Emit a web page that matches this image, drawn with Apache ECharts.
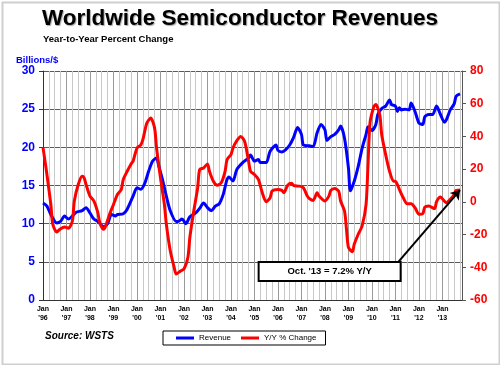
<!DOCTYPE html>
<html>
<head>
<meta charset="utf-8">
<script src="https://cdn.jsdelivr.net/npm/echarts@6/dist/echarts.min.js"></script>
<style>
html,body{margin:0;padding:0;background:#fff;}
#chart{width:500px;height:365px;}
</style>
</head>
<body>
<div id="chart"></div>
<script>
// x positions are month indices counted from Jan 1996 (0) to Oct 2013 (213)
var yearLabels = ["'96","'97","'98","'99","'00","'01","'02","'03","'04","'05","'06","'07","'08","'09","'10","'11","'12","'13"];

var revenueMonths = [0,2,4,7,9,11,13,15,17,20,22,24,26,28,31,33,35,37,38,41,43,46,48,50,52,54,56,58,59,61,63,65,68,69,71,73,75,78,80,82,84,86,88,90,92,94,95,97,99,102,105,106,108,110,111,114,116,119,120,122,124,126,128,130,132,133,136,138,140,142,144,145,147,149,151,152,154,156,157,159,161,163,165,166,168,170,171,173,175,177,178,180,181,182,183,185,187,188,190,192,194,195,197,199,201,203,205,206,208,210,211,213];
var revenueValues = [12.7,12.3,11.2,10.1,10.3,11.0,10.6,11.0,11.5,11.7,12.1,11.4,10.6,10.3,9.6,10.0,11.2,11.0,11.2,11.3,11.9,13.6,14.7,14.5,15.3,16.9,18.2,18.6,17.7,15.8,13.6,11.7,10.3,10.3,10.6,10.0,10.9,11.4,12.0,12.7,12.1,11.7,12.3,12.6,13.8,15.8,16.1,15.6,17.1,18.0,18.6,19.0,18.2,18.4,18.0,18.0,19.5,20.3,19.6,19.4,19.7,20.3,21.3,22.6,21.7,20.3,20.2,20.1,21.9,23.0,22.3,20.9,21.4,21.7,22.3,22.8,21.2,17.3,14.3,15.6,17.5,19.9,21.7,22.7,22.2,23.0,24.3,25.1,25.4,26.2,25.6,25.4,24.7,25.2,24.9,25.0,24.9,25.8,24.7,23.2,23.0,24.0,24.3,24.3,25.4,24.3,23.3,23.6,24.9,25.7,26.7,27.0];

var yoyMonths = [0,2,4,5,7,9,11,13,15,16,18,20,21,22,24,26,28,29,31,32,34,36,38,40,41,43,45,46,48,50,51,53,55,57,58,60,62,63,65,67,68,70,72,74,75,77,79,80,82,84,85,87,89,91,93,94,96,97,99,101,103,105,106,108,110,112,114,116,117,120,122,123,125,127,128,131,133,135,136,138,140,141,144,146,147,149,151,152,154,155,156,158,159,161,163,165,166,167,169,170,172,173,175,177,179,180,182,184,186,188,190,192,194,195,197,200,201,203,205,206,208,210,211,213];
var yoyValues = [33.3,16.7,-1.6,-13.7,-18.4,-16.4,-15.3,-16.2,-11.7,0.5,10.6,15.7,14.7,10.6,3.5,0.5,-6.6,-12.7,-16.8,-14.7,-7.6,-1.6,4.5,7.6,13.7,18.7,23.2,24.8,32.9,34.9,38.0,48.1,51.2,45.1,32.9,14.7,-1.6,-13.7,-29.9,-40.1,-44.1,-42.5,-41.1,-34.0,-21.8,-5.6,8.6,19.7,20.7,23.2,18.7,12.6,10.2,11.6,18.7,25.8,28.9,32.9,37.4,40.0,36.9,24.8,18.7,16.7,13.7,5.5,0.0,2.5,6.6,7.6,7.0,5.5,10.2,11.3,10.0,9.6,8.6,3.5,2.1,0.9,5.5,3.5,0.5,3.5,7.0,8.2,6.6,0.5,-5.6,-16.8,-27.9,-30.5,-25.8,-19.8,-14.7,-1.6,22.8,48.1,58.3,59.5,53.2,41.0,28.9,18.7,12.6,12.6,7.6,2.5,-1.2,-1.2,-3.6,-7.6,-7.2,-3.2,-2.6,-4.1,0.1,2.9,0.5,-0.5,1.5,4.5,7.0,7.2];

var seriesNames = ['Revenue','Y/Y % Change'];
var annotationText = "Oct. '13 = 7.2% Y/Y";

function pairs(xs, ys){ return xs.map(function(x,i){ return [x, ys[i]]; }); }

var chart = echarts.init(document.getElementById('chart'), null, {renderer:'canvas'});
var lastIdx = yoyMonths.length - 1;

chart.setOption({
  animation: false,
  backgroundColor: '#fff',
  title: [
    {text: 'Worldwide Semiconductor Revenues', left: 42, top: 7, padding: 0,
     textStyle: {fontFamily: 'Liberation Sans, Arial', fontSize: 22.5, fontWeight: 'bold', color: '#000',
                 textShadowColor: 'rgba(0,0,0,0.35)', textShadowBlur: 1, textShadowOffsetX: 1, textShadowOffsetY: 1}},
    {text: 'Year-to-Year Percent Change', left: 43, top: 34, padding: 0,
     textStyle: {fontFamily: 'Liberation Sans, Arial', fontSize: 9.5, fontWeight: 'bold', color: '#000'}}
  ],
  graphic: [
    {type: 'rect', left: 0, top: 0, z: -1, silent: true,
     shape: {x: 1, y: 1, width: 497, height: 362}, style: {fill: 'none', stroke: '#cfcfcf', lineWidth: 2}},
    {type: 'text', left: 16, top: 55, style: {text: 'Billions/$', fill: '#0000ff', font: 'bold 9.5px Liberation Sans, Arial'}},
    {type: 'text', left: 45, top: 331, style: {text: 'Source: WSTS', fill: '#000', font: 'italic bold 10px Liberation Sans, Arial'}}
  ],
  grid: {left: 43, right: 38, top: 71, height: 229, containLabel: false},
  legend: {
    data: seriesNames, left: 163, top: 331, padding: [3, 9, 3, 13], itemGap: 10,
    itemWidth: 18, itemHeight: 3, icon: 'rect',
    borderColor: '#000', borderWidth: 1,
    textStyle: {fontFamily: 'Liberation Sans, Arial', fontSize: 8, fontWeight: 'normal', color: '#000'}
  },
  xAxis: {
    type: 'value', min: 0, max: 214, interval: 12,
    axisLine: {show: true, onZero: false, lineStyle: {color: '#333', width: 1}},
    axisTick: {show: false},
    axisLabel: {
      margin: 5, showMaxLabel: false, fontFamily: 'Liberation Sans, Arial', fontSize: 7, fontWeight: 'bold', color: '#000', lineHeight: 9,
      formatter: function(v){ if (v % 12 !== 0) return ''; var y = yearLabels[v/12]; return y ? 'Jan\n' + y : ''; }
    },
    splitLine: {show: true, lineStyle: {color: '#9a9a9a', width: 1}},
    minorTick: {show: false, splitNumber: 4},
    minorSplitLine: {show: true, lineStyle: {color: '#c8c8c8', width: 1}}
  },
  yAxis: [
    {type: 'value', min: 0, max: 30, interval: 5, position: 'left',
     axisLine: {show: true, lineStyle: {color: '#333'}},
     axisTick: {show: true, length: 4, lineStyle: {color: '#333'}},
     axisLabel: {margin: 8, fontFamily: 'Liberation Sans, Arial', fontSize: 12, fontWeight: 'bold', color: '#0000ff'},
     splitLine: {show: true, lineStyle: {color: '#5a5a5a', width: 1}}},
    {type: 'value', min: -60, max: 80, interval: 20, position: 'right',
     axisLine: {show: true, lineStyle: {color: '#555'}},
     axisTick: {show: true, length: 4, lineStyle: {color: '#555'}},
     axisLabel: {margin: 8, fontFamily: 'Liberation Sans, Arial', fontSize: 12, fontWeight: 'bold', color: '#ff0000'},
     splitLine: {show: false}}
  ],
  series: [
    {name: seriesNames[0], type: 'line', yAxisIndex: 0, data: pairs(revenueMonths, revenueValues),
     showSymbol: false, smooth: 0.25, lineStyle: {color: '#0000ff', width: 3}, itemStyle: {color: '#0000ff'}, z: 3},
    {name: seriesNames[1], type: 'line', yAxisIndex: 1, data: pairs(yoyMonths, yoyValues),
     showSymbol: false, smooth: 0.25, lineStyle: {color: '#ff0000', width: 3}, itemStyle: {color: '#ff0000'}, z: 4,
     markLine: {silent: true, symbol: ['none', 'arrow'], symbolSize: 9,
       lineStyle: {color: '#000', width: 2, type: 'solid'}, label: {show: false},
       data: [[{coord: [181.5, -36.7]}, {coord: [yoyMonths[lastIdx], yoyValues[lastIdx]]}]]},
     markPoint: {silent: true,
       data: [{coord: [146.4, -42.5], symbol: 'circle', symbolSize: 1,
               itemStyle: {color: 'rgba(0,0,0,0)'},
               label: {show: true, position: 'inside', formatter: annotationText, color: '#000',
                       backgroundColor: '#fff', borderColor: '#000', borderWidth: 2,
                       width: 140, height: 15, lineHeight: 15, align: 'center', verticalAlign: 'middle',
                       padding: [1, 0, 1, 0],
                       fontFamily: 'Liberation Sans, Arial', fontSize: 9.5, fontWeight: 'bold'}}]}}
  ]
});
</script>
</body>
</html>
